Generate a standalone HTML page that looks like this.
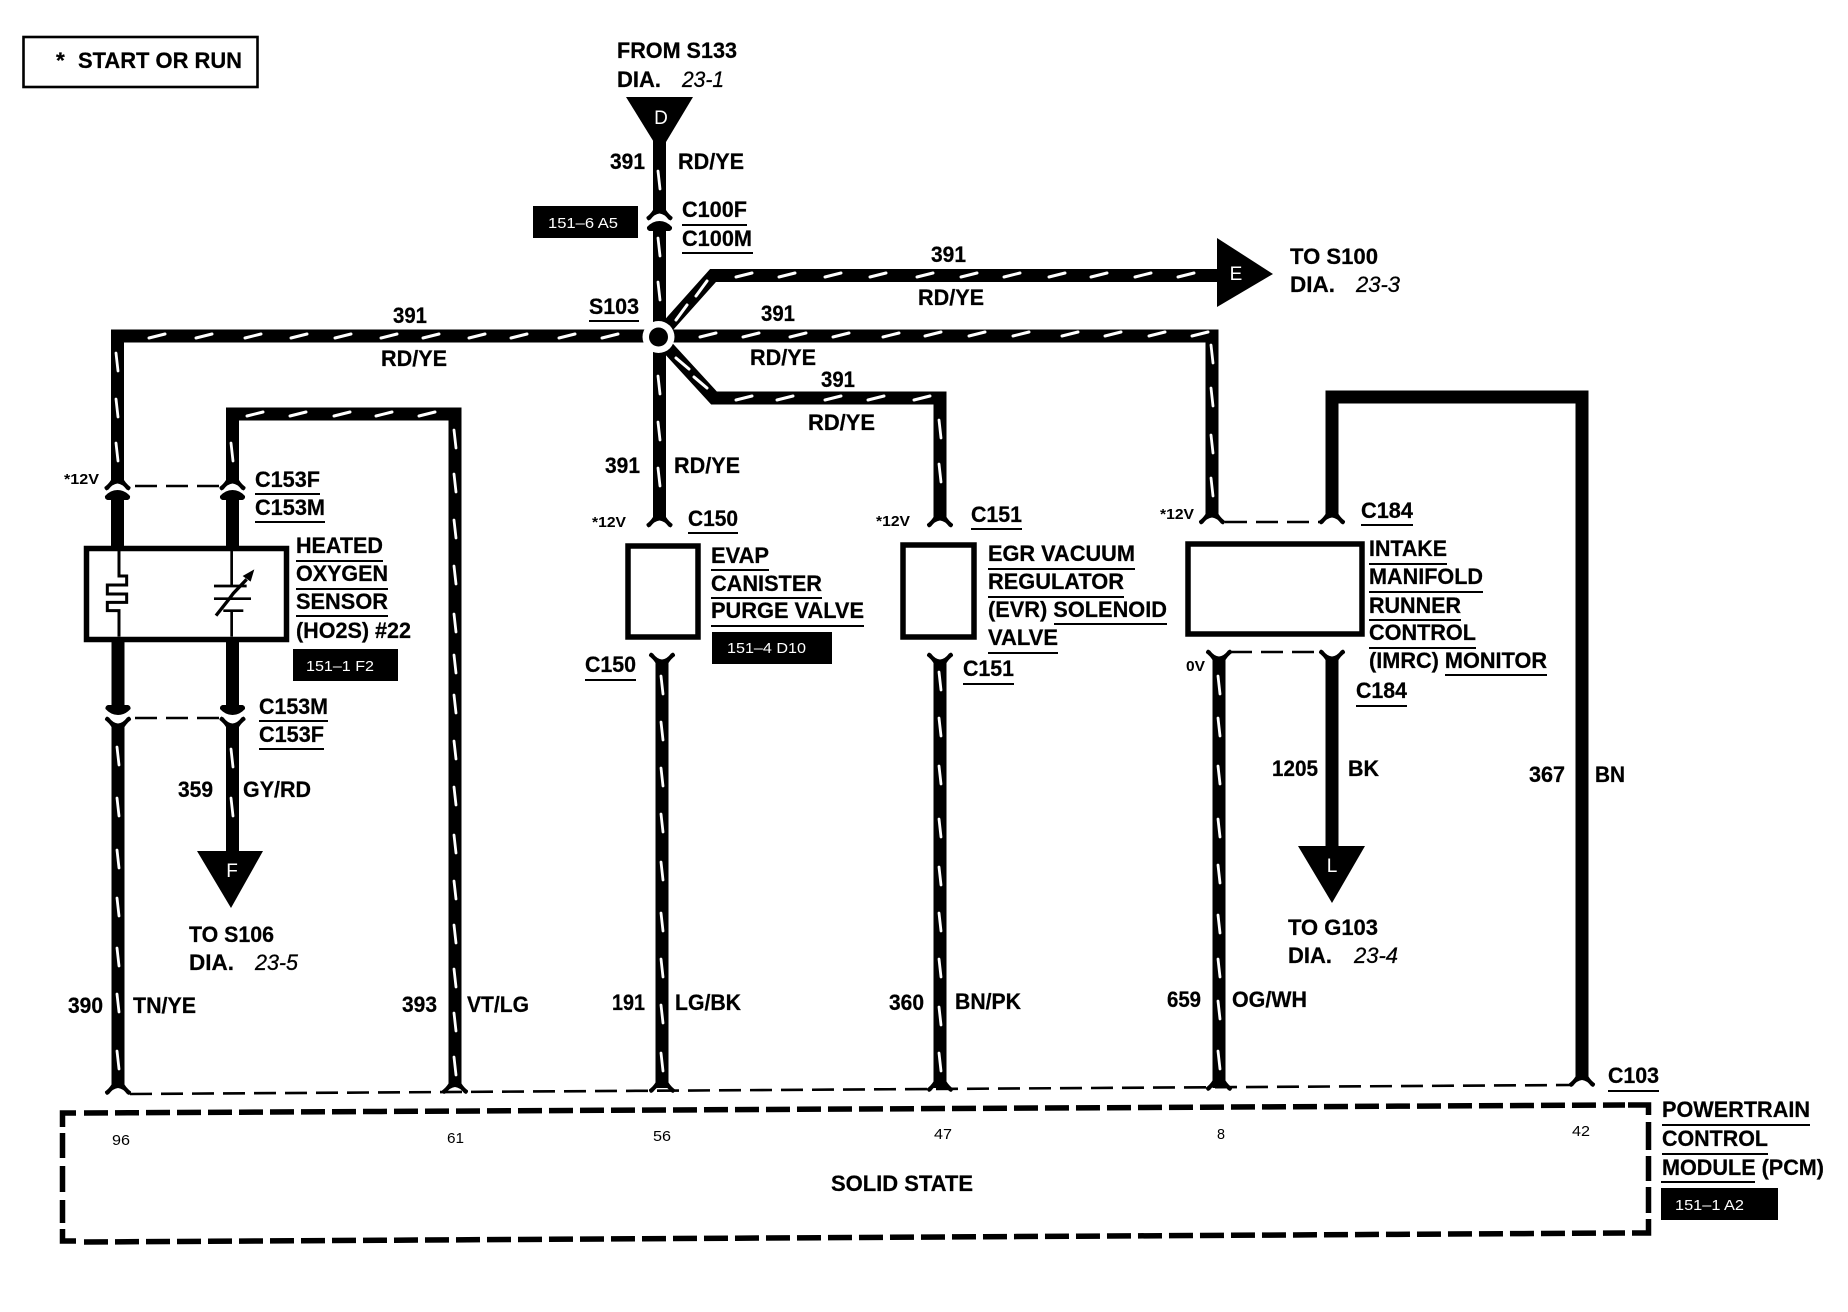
<!DOCTYPE html>
<html>
<head>
<meta charset="utf-8">
<style>
html,body{margin:0;padding:0;background:#fff;width:1848px;height:1312px;overflow:hidden}
svg{display:block}
text{font-family:"Liberation Sans",sans-serif;fill:#000}
.b{font-weight:bold;font-size:22.5px;stroke:#000;stroke-width:.25}
.s{font-weight:bold;font-size:15px}
.n{font-size:15px}
.i{font-style:italic;font-size:22px;stroke:#000;stroke-width:.3}
.w{fill:#fff;font-size:15px}
.l{fill:#fff;font-size:19px}
</style>
</head>
<body>
<svg width="1848" height="1312" viewBox="0 0 1848 1312" xmlns="http://www.w3.org/2000/svg">
<defs>
<path id="fem" d="M-6.5,-14 L-6.5,-8 Q-9,-4 -13,-1 Q-13.5,1 -11,2.5 L-9,1.5 Q-5,-4 0,-4.5 Q5,-4 9,1.5 L11,2.5 Q13.5,1 13,-1 Q9,-4 6.5,-8 L6.5,-14 Z"/>
<path id="male" d="M0,0 Q7,0 12.5,6 Q13,9 10,10 L6.5,10 L6.5,14 L-6.5,14 L-6.5,10 L-10,10 Q-13,9 -12.5,6 Q-7,0 0,0 Z"/>
</defs>
<rect width="1848" height="1312" fill="#fff"/>

<!-- legend -->
<rect x="23.5" y="37" width="234" height="50" fill="none" stroke="#000" stroke-width="2.6"/>
<text class="b" x="56" y="68">*</text>
<text class="b" x="78" y="68" textLength="164" lengthAdjust="spacingAndGlyphs">START OR RUN</text>

<!-- thick wires -->
<g fill="none" stroke="#000" stroke-width="13" stroke-linejoin="miter">
<path d="M659.5,140 V213"/>
<path d="M659.5,226 V337 V516"/>
<path d="M658,337 L713,275.5 H1225"/>
<path d="M658,337 L714,398 H940 V516"/>
<path d="M658,336 H117.5 V478"/>
<path d="M658,336 H1212 V514"/>
<path d="M232.5,478 V414 H455 V1085"/>
<path d="M1332,514 V397 H1582 V1080"/>
<path d="M117.5,495 V546"/>
<path d="M232.5,495 V546"/>
<path d="M118,642 V708"/>
<path d="M232.5,642 V708"/>
<path d="M118,725 V1088"/>
<path d="M232.5,725 V855"/>
<path d="M662,662 V1088"/>
<path d="M940,662 V1088"/>
<path d="M1219,659 V1088"/>
<path d="M1332,659 V850"/>
</g>

<!-- connectors -->
<g fill="#000">
<use href="#fem" transform="translate(659.5,218)"/>
<use href="#male" transform="translate(659.5,221)"/>
<use href="#fem" transform="translate(117.5,488)"/>
<use href="#male" transform="translate(117.5,490)"/>
<use href="#fem" transform="translate(232.5,488)"/>
<use href="#male" transform="translate(232.5,490)"/>
<use href="#male" transform="translate(118,715) scale(1,-1)"/>
<use href="#male" transform="translate(232.5,715) scale(1,-1)"/>
<use href="#fem" transform="translate(118,719) scale(1,-1)"/>
<use href="#fem" transform="translate(232.5,719) scale(1,-1)"/>
<use href="#fem" transform="translate(659.5,525)"/>
<use href="#fem" transform="translate(940,525)"/>
<use href="#fem" transform="translate(1212,522)"/>
<use href="#fem" transform="translate(1332,522)"/>
<use href="#fem" transform="translate(662,655) scale(1,-1)"/>
<use href="#fem" transform="translate(940,655) scale(1,-1)"/>
<use href="#fem" transform="translate(1219,652) scale(1,-1)"/>
<use href="#fem" transform="translate(1332,652) scale(1,-1)"/>
<use href="#fem" transform="translate(118,1092.5)"/>
<use href="#fem" transform="translate(455,1091.5)"/>
<use href="#fem" transform="translate(662,1090.5)"/>
<use href="#fem" transform="translate(940,1089.5)"/>
<use href="#fem" transform="translate(1219,1088.5)"/>
<use href="#fem" transform="translate(1582,1084.5)"/>
</g>

<!-- thin dashed connector links -->
<g fill="none" stroke="#000" stroke-width="2.6" stroke-dasharray="22 9">
<path d="M135,486 H220"/>
<path d="M135,718 H220"/>
<path d="M1225,522 H1322"/>
<path d="M1230,652 H1322"/>
<path d="M130,1094 L1570,1085"/>
</g>

<!-- white wire stripes horizontal -->
<path fill="none" stroke="#fff" stroke-width="3" stroke-linecap="round" d="
M149,338l16,-4 M196,338l16,-4 M245,338l16,-4 M291,338l16,-4 M335,338l16,-4 M381,338l16,-4 M423,338l16,-4 M469,338l16,-4 M511,338l16,-4 M559,338l16,-4 M602,338l16,-4
M700,337l16,-4 M743,337l16,-4 M790,337l16,-4 M833,337l16,-4 M883,337l16,-4 M925,336l16,-4 M969,336l16,-4 M1013,336l16,-4 M1062,336l16,-4 M1105,336l16,-4 M1149,336l16,-4 M1192,336l16,-4
M736,277l16,-4 M779,277l16,-4 M825,277l16,-4 M870,277l16,-4 M917,277l16,-4 M961,277l16,-4 M1004,277l16,-4 M1049,277l16,-4 M1091,277l16,-4 M1135,277l16,-4 M1178,277l16,-4
M736,400l16,-4 M777,400l16,-4 M825,400l16,-4 M868,400l16,-4 M914,400l16,-4
M247,416l16,-4 M290,416l16,-4 M334,416l16,-4 M376,416l16,-4 M419,416l16,-4
M696,296l11,-15 M676,320l11,-15 M676,358l13,11 M694,377l13,11"/>

<!-- white wire stripes vertical -->
<path fill="none" stroke="#fff" stroke-width="2.8" stroke-linecap="round" d="
M116,353l2,18 M116,399l2,18 M116,443l2,18
M231,443l2,18
M658,171l2,18 M658,238l2,18 M658,282l2,18 M658,376l2,18 M658,422l2,18 M658,468l2,18
M454,430l2,18 M454,474l2,18 M454,520l2,18 M454,566l2,18 M454,614l2,18 M454,655l2,18 M454,695l2,18 M454,741l2,18 M454,787l2,18 M454,835l2,18 M454,881l2,18 M454,925l2,18 M454,969l2,18 M454,1013l2,18 M454,1057l2,18
M939,420l2,18 M939,464l2,18
M1211,345l2,18 M1211,388l2,18 M1211,435l2,18 M1211,478l2,18
M117,747l2,18 M117,798l2,18 M117,850l2,18 M117,898l2,18 M117,948l2,18 M117,994l2,18 M117,1051l2,18
M231,749l2,18 M231,798l2,18
M661,676l2,18 M661,722l2,18 M661,768l2,18 M661,814l2,18 M661,862l2,18 M661,913l2,18 M661,959l2,18 M661,1005l2,18 M661,1053l2,18
M939,672l2,18 M939,718l2,18 M939,766l2,18 M939,819l2,18 M939,867l2,18 M939,913l2,18 M939,959l2,18 M939,1007l2,18 M939,1053l2,18
M1218,676l2,18 M1218,718l2,18 M1218,766l2,18 M1218,819l2,18 M1218,865l2,18 M1218,915l2,18 M1218,959l2,18 M1218,1001l2,18 M1218,1051l2,18"/>

<!-- splice -->
<circle cx="658.5" cy="337" r="16" fill="#fff"/>
<circle cx="658.5" cy="337" r="9.5" fill="#000"/>

<!-- triangles -->
<polygon points="626,97 693,97 660,152" fill="#000"/>
<text class="l" x="661" y="124" text-anchor="middle">D</text>
<polygon points="1217,238 1273,274 1217,307" fill="#000"/>
<text class="l" x="1236" y="280" text-anchor="middle">E</text>
<polygon points="197,851 263,851 231,908" fill="#000"/>
<text class="l" x="232" y="877" text-anchor="middle">F</text>
<polygon points="1298,846 1365,846 1332,903" fill="#000"/>
<text class="l" x="1332" y="872" text-anchor="middle">L</text>

<!-- component boxes -->
<g fill="#fff" stroke="#000" stroke-width="5.5">
<rect x="86.5" y="548.5" width="200" height="91"/>
<rect x="628" y="546" width="70" height="91"/>
<rect x="903" y="545" width="71" height="92"/>
<rect x="1188" y="544" width="174" height="90"/>
</g>
<!-- sensor internals -->
<g transform="translate(60,460) scale(.3333)" fill="none" stroke="#000">
<path stroke-width="9" d="M177,272 V348 H200 V375 H142 V402 H200 V427 H142 V452 H177 V530"/>
<path stroke-width="8" d="M515,272 V378 M462,378 H560 M462,416 H573 M490,452 H550 M515,452 V530"/>
<path stroke-width="10" d="M468,467 L505,420 L520,400 L560,358"/>
<polygon points="583,328 572,365 548,348" fill="#000" stroke="none"/>
</g>

<!-- black reference tags -->
<g fill="#000">
<rect x="533" y="206" width="105" height="32"/>
<rect x="293" y="649" width="105" height="32"/>
<rect x="712" y="632" width="120" height="32"/>
<rect x="1661" y="1188" width="117" height="32"/>
</g>
<text class="w" x="548" y="228" textLength="70" lengthAdjust="spacingAndGlyphs">151–6 A5</text>
<text class="w" x="306" y="671" textLength="68" lengthAdjust="spacingAndGlyphs">151–1 F2</text>
<text class="w" x="727" y="653" textLength="79" lengthAdjust="spacingAndGlyphs">151–4 D10</text>
<text class="w" x="1675" y="1210" textLength="69" lengthAdjust="spacingAndGlyphs">151–1 A2</text>

<!-- PCM dashed box -->
<g fill="none" stroke="#000" stroke-width="5.5">
<path stroke-dasharray="24 7" stroke-linecap="butt" d="M84,1113 L1625,1105"/>
<path stroke-dasharray="24 7" stroke-linecap="butt" d="M84,1242 L1625,1233"/>
<path d="M62.5,1127 V1113 H76"/>
<path d="M1628,1105 H1648.5 V1115"/>
<path d="M62.5,1229 V1241 H76"/>
<path d="M1648.5,1219 V1233 H1632"/>
<path d="M62.5,1133 V1158 M62.5,1166 V1192 M62.5,1200 V1223"/>
<path d="M1648.5,1122 V1150 M1648.5,1156 V1181 M1648.5,1187 V1213"/>
</g>

<!-- underlines -->
<g stroke="#000" stroke-width="2" fill="none">
<path d="M682,225H747 M682,253H753 M589,321H639 M255,494H320 M255,522H325 M296,561H383 M296,589H388 M296,616H388
M688,533H738 M711,570H769 M711,598H822 M711,626H864 M971,529H1022 M988,569H1135 M988,597H1124 M1054,624H1167 M988,653H1058
M1361,525H1413 M1369,564H1447 M1369,592H1483 M1369,620H1461 M1369,648H1476 M1445,675H1547
M585,680H636 M963,684H1014 M259,721H328 M259,749H324 M1356,706H1407 M1608,1091H1659 M1662,1125H1810 M1662,1154H1768 M1661,1182H1755"/>
</g>

<!-- labels -->
<text class="b" x="617" y="58" textLength="120" lengthAdjust="spacingAndGlyphs">FROM S133</text>
<text class="b" x="617" y="87" textLength="44" lengthAdjust="spacingAndGlyphs">DIA.</text>
<text class="i" x="682" y="87" textLength="42" lengthAdjust="spacingAndGlyphs">23-1</text>
<text class="b" x="610" y="169" textLength="35" lengthAdjust="spacingAndGlyphs">391</text>
<text class="b" x="678" y="169" textLength="66" lengthAdjust="spacingAndGlyphs">RD/YE</text>
<text class="b" x="682" y="217" textLength="65" lengthAdjust="spacingAndGlyphs">C100F</text>
<text class="b" x="682" y="246" textLength="70" lengthAdjust="spacingAndGlyphs">C100M</text>

<text class="b" x="931" y="262" textLength="35" lengthAdjust="spacingAndGlyphs">391</text>
<text class="b" x="918" y="305" textLength="66" lengthAdjust="spacingAndGlyphs">RD/YE</text>
<text class="b" x="1290" y="264" textLength="88" lengthAdjust="spacingAndGlyphs">TO S100</text>
<text class="b" x="1290" y="292" textLength="45" lengthAdjust="spacingAndGlyphs">DIA.</text>
<text class="i" x="1356" y="292" textLength="44" lengthAdjust="spacingAndGlyphs">23-3</text>

<text class="b" x="393" y="323" textLength="34" lengthAdjust="spacingAndGlyphs">391</text>
<text class="b" x="381" y="366" textLength="66" lengthAdjust="spacingAndGlyphs">RD/YE</text>
<text class="b" x="589" y="314" textLength="50" lengthAdjust="spacingAndGlyphs">S103</text>
<text class="b" x="761" y="321" textLength="34" lengthAdjust="spacingAndGlyphs">391</text>
<text class="b" x="750" y="365" textLength="66" lengthAdjust="spacingAndGlyphs">RD/YE</text>
<text class="b" x="821" y="387" textLength="34" lengthAdjust="spacingAndGlyphs">391</text>
<text class="b" x="808" y="430" textLength="67" lengthAdjust="spacingAndGlyphs">RD/YE</text>
<text class="b" x="605" y="473" textLength="35" lengthAdjust="spacingAndGlyphs">391</text>
<text class="b" x="674" y="473" textLength="66" lengthAdjust="spacingAndGlyphs">RD/YE</text>

<text class="s" x="64" y="484" textLength="35" lengthAdjust="spacingAndGlyphs">*12V</text>
<text class="s" x="592" y="527" textLength="34" lengthAdjust="spacingAndGlyphs">*12V</text>
<text class="s" x="876" y="526" textLength="34" lengthAdjust="spacingAndGlyphs">*12V</text>
<text class="s" x="1160" y="519" textLength="34" lengthAdjust="spacingAndGlyphs">*12V</text>
<text class="s" x="1186" y="671" textLength="19" lengthAdjust="spacingAndGlyphs">0V</text>

<text class="b" x="255" y="487" textLength="65" lengthAdjust="spacingAndGlyphs">C153F</text>
<text class="b" x="255" y="515" textLength="70" lengthAdjust="spacingAndGlyphs">C153M</text>
<text class="b" x="296" y="553" textLength="87" lengthAdjust="spacingAndGlyphs">HEATED</text>
<text class="b" x="296" y="581" textLength="92" lengthAdjust="spacingAndGlyphs">OXYGEN</text>
<text class="b" x="296" y="609" textLength="92" lengthAdjust="spacingAndGlyphs">SENSOR</text>
<text class="b" x="296" y="638" textLength="115" lengthAdjust="spacingAndGlyphs">(HO2S) #22</text>
<text class="b" x="259" y="714" textLength="69" lengthAdjust="spacingAndGlyphs">C153M</text>
<text class="b" x="259" y="742" textLength="65" lengthAdjust="spacingAndGlyphs">C153F</text>
<text class="b" x="178" y="797" textLength="35" lengthAdjust="spacingAndGlyphs">359</text>
<text class="b" x="243" y="797" textLength="68" lengthAdjust="spacingAndGlyphs">GY/RD</text>
<text class="b" x="189" y="942" textLength="85" lengthAdjust="spacingAndGlyphs">TO S106</text>
<text class="b" x="189" y="970" textLength="45" lengthAdjust="spacingAndGlyphs">DIA.</text>
<text class="i" x="255" y="970" textLength="43" lengthAdjust="spacingAndGlyphs">23-5</text>

<text class="b" x="688" y="526" textLength="50" lengthAdjust="spacingAndGlyphs">C150</text>
<text class="b" x="711" y="563" textLength="58" lengthAdjust="spacingAndGlyphs">EVAP</text>
<text class="b" x="711" y="591" textLength="111" lengthAdjust="spacingAndGlyphs">CANISTER</text>
<text class="b" x="711" y="618" textLength="153" lengthAdjust="spacingAndGlyphs">PURGE VALVE</text>
<text class="b" x="585" y="672" textLength="51" lengthAdjust="spacingAndGlyphs">C150</text>

<text class="b" x="971" y="522" textLength="51" lengthAdjust="spacingAndGlyphs">C151</text>
<text class="b" x="988" y="561" textLength="147" lengthAdjust="spacingAndGlyphs">EGR VACUUM</text>
<text class="b" x="988" y="589" textLength="136" lengthAdjust="spacingAndGlyphs">REGULATOR</text>
<text class="b" x="988" y="617" textLength="179" lengthAdjust="spacingAndGlyphs">(EVR) SOLENOID</text>
<text class="b" x="988" y="645" textLength="70" lengthAdjust="spacingAndGlyphs">VALVE</text>
<text class="b" x="963" y="676" textLength="51" lengthAdjust="spacingAndGlyphs">C151</text>

<text class="b" x="1361" y="518" textLength="52" lengthAdjust="spacingAndGlyphs">C184</text>
<text class="b" x="1369" y="556" textLength="78" lengthAdjust="spacingAndGlyphs">INTAKE</text>
<text class="b" x="1369" y="584" textLength="114" lengthAdjust="spacingAndGlyphs">MANIFOLD</text>
<text class="b" x="1369" y="613" textLength="92" lengthAdjust="spacingAndGlyphs">RUNNER</text>
<text class="b" x="1369" y="640" textLength="107" lengthAdjust="spacingAndGlyphs">CONTROL</text>
<text class="b" x="1369" y="668" textLength="178" lengthAdjust="spacingAndGlyphs">(IMRC) MONITOR</text>
<text class="b" x="1356" y="698" textLength="51" lengthAdjust="spacingAndGlyphs">C184</text>
<text class="b" x="1272" y="776" textLength="46" lengthAdjust="spacingAndGlyphs">1205</text>
<text class="b" x="1348" y="776" textLength="31" lengthAdjust="spacingAndGlyphs">BK</text>
<text class="b" x="1529" y="782" textLength="36" lengthAdjust="spacingAndGlyphs">367</text>
<text class="b" x="1595" y="782" textLength="30" lengthAdjust="spacingAndGlyphs">BN</text>
<text class="b" x="1288" y="935" textLength="90" lengthAdjust="spacingAndGlyphs">TO G103</text>
<text class="b" x="1288" y="963" textLength="44" lengthAdjust="spacingAndGlyphs">DIA.</text>
<text class="i" x="1354" y="963" textLength="44" lengthAdjust="spacingAndGlyphs">23-4</text>

<text class="b" x="68" y="1013" textLength="35" lengthAdjust="spacingAndGlyphs">390</text>
<text class="b" x="133" y="1013" textLength="63" lengthAdjust="spacingAndGlyphs">TN/YE</text>
<text class="b" x="402" y="1012" textLength="35" lengthAdjust="spacingAndGlyphs">393</text>
<text class="b" x="467" y="1012" textLength="62" lengthAdjust="spacingAndGlyphs">VT/LG</text>
<text class="b" x="612" y="1010" textLength="33" lengthAdjust="spacingAndGlyphs">191</text>
<text class="b" x="675" y="1010" textLength="66" lengthAdjust="spacingAndGlyphs">LG/BK</text>
<text class="b" x="889" y="1010" textLength="35" lengthAdjust="spacingAndGlyphs">360</text>
<text class="b" x="955" y="1009" textLength="66" lengthAdjust="spacingAndGlyphs">BN/PK</text>
<text class="b" x="1167" y="1007" textLength="34" lengthAdjust="spacingAndGlyphs">659</text>
<text class="b" x="1232" y="1007" textLength="75" lengthAdjust="spacingAndGlyphs">OG/WH</text>

<text class="b" x="1608" y="1083" textLength="51" lengthAdjust="spacingAndGlyphs">C103</text>
<text class="b" x="1662" y="1117" textLength="148" lengthAdjust="spacingAndGlyphs">POWERTRAIN</text>
<text class="b" x="1662" y="1146" textLength="106" lengthAdjust="spacingAndGlyphs">CONTROL</text>
<text class="b" x="1662" y="1175" textLength="162" lengthAdjust="spacingAndGlyphs">MODULE (PCM)</text>

<text class="n" x="112" y="1145" textLength="18" lengthAdjust="spacingAndGlyphs">96</text>
<text class="n" x="447" y="1143" textLength="17" lengthAdjust="spacingAndGlyphs">61</text>
<text class="n" x="653" y="1141" textLength="18" lengthAdjust="spacingAndGlyphs">56</text>
<text class="n" x="934" y="1139" textLength="18" lengthAdjust="spacingAndGlyphs">47</text>
<text class="n" x="1217" y="1139" textLength="8" lengthAdjust="spacingAndGlyphs">8</text>
<text class="n" x="1572" y="1136" textLength="18" lengthAdjust="spacingAndGlyphs">42</text>
<text class="b" x="831" y="1191" textLength="142" lengthAdjust="spacingAndGlyphs">SOLID STATE</text>
</svg>
</body>
</html>
